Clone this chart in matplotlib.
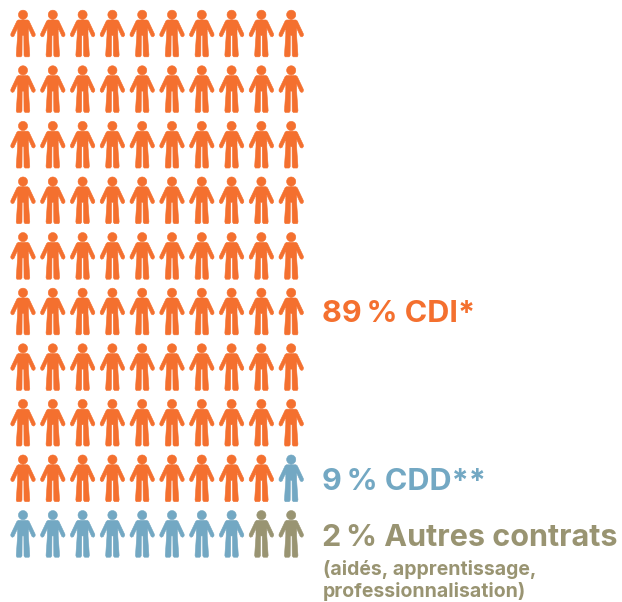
import matplotlib
matplotlib.use('Agg')
import matplotlib.pyplot as plt
from matplotlib.path import Path
import numpy as np

# repartition des contrats, sur 100 personnes
categories = ['CDI', 'CDD', 'Autres']
counts = [89, 9, 2]
colors = ['#F4702F', '#73A8C3', '#999472']
labels = ['89\u202f% CDI*', '9\u202f% CDD**', '2\u202f% Autres contrats']
note = '(aidés, apprentissage,\nprofessionnalisation)'

n_cols = 10
n_rows = 10

plt.rcParams['font.family'] = ['Inter', 'DejaVu Sans']


# silhouette, centree sur 0
def person_marker():
    theta = np.linspace(0, 2 * np.pi, 40)
    hx = 13.5 * np.cos(theta)
    hy = 55.5 + 13.5 * np.sin(theta)
    head = list(zip(hx, hy))
    body = [(-14, 40), (14, 40), (18, 37), (36, -1), (36, -6), (32, -10), (27, -8),
            (16, 16), (16, -6), (20, -64), (18, -69), (6, -69), (3, -65), (2.5, -6),
            (-2.5, -6), (-3, -65), (-6, -69), (-18, -69), (-20, -64), (-16, -6),
            (-16, 16), (-27, -8), (-32, -10), (-36, -6), (-36, -1), (-18, 37), (-14, 40)]
    verts = head + body
    codes = [Path.MOVETO] + [Path.LINETO] * (len(head) - 1)
    codes += [Path.MOVETO] + [Path.LINETO] * (len(body) - 1)
    return Path(verts, codes)


fig = plt.figure(figsize=(6.22, 6.02), dpi=100)
ax = fig.add_axes([0, 0, 1, 1])
ax.set_xlim(0, 622)
ax.set_ylim(602, 0)
ax.axis('off')

# remplissage ligne par ligne, de gauche a droite
point_colors = []
for c, col in zip(counts, colors):
    point_colors += [col] * c
cols = np.array([i % n_cols for i in range(sum(counts))])
rows = np.array([i // n_cols for i in range(sum(counts))])
ax.scatter(23 + cols * 29.8, 33.5 + rows * 55.6, marker=person_marker(), s=1129,
           c=point_colors, edgecolors='face', linewidths=0.4)

ax.text(322, 322, labels[0], color=colors[0], fontsize=22, fontweight='bold', va='baseline')
ax.text(322, 490, labels[1], color=colors[1], fontsize=22, fontweight='bold', va='baseline')
ax.text(322, 546, labels[2], color=colors[2], fontsize=22, fontweight='bold', va='baseline')
ax.text(323, 575, note.split('\n')[0], color=colors[2], fontsize=14, fontweight='bold', va='baseline')
ax.text(323, 597, note.split('\n')[1], color=colors[2], fontsize=14, fontweight='bold', va='baseline')

fig.savefig('out.png', dpi=100)
